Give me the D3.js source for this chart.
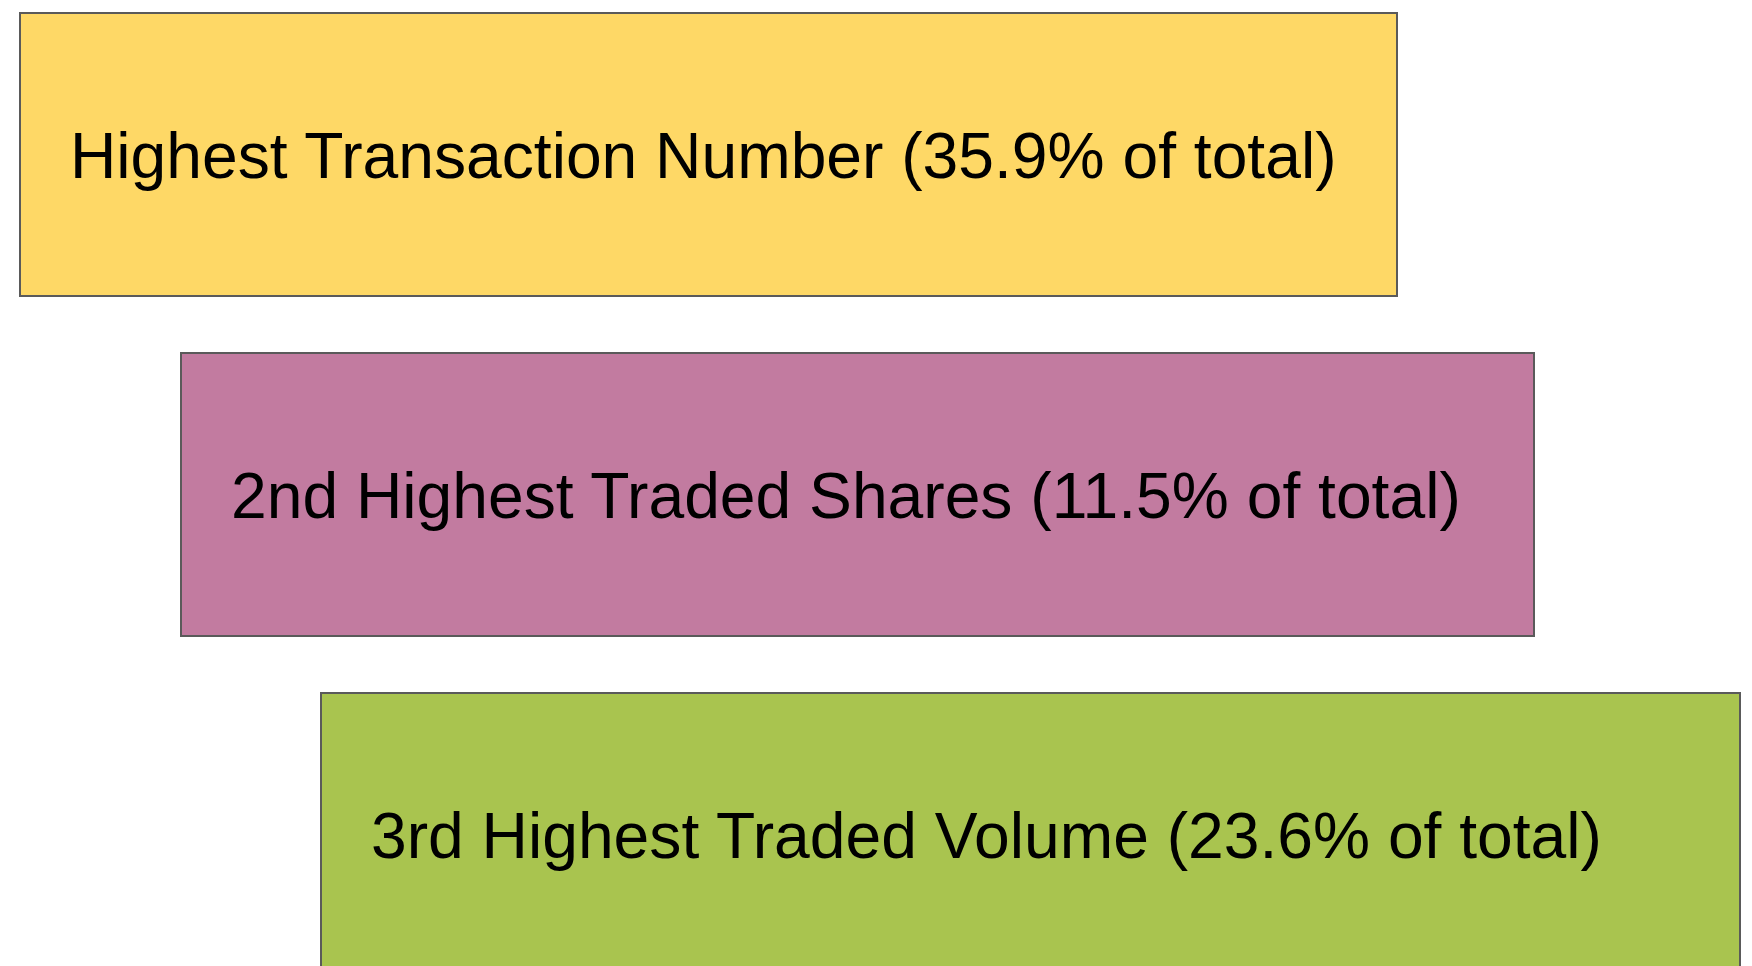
<!DOCTYPE html>
<html>
<head>
<meta charset="utf-8">
<script src="https://cdn.jsdelivr.net/npm/d3@7"></script>
<style>
  html, body { margin: 0; padding: 0; background: #fff; overflow: hidden; }
  svg { display: block; }
  .box-text { font-family: "Liberation Sans", Arial, Helvetica, sans-serif; font-size: 64.2px; fill: #000; }
</style>
</head>
<body>
<svg width="1752" height="966"></svg>
<script>
// data
var ranks = ["Highest", "2nd Highest", "3rd Highest"];
var measures = ["Transaction Number", "Traded Shares", "Traded Volume"];
var shares = [35.9, 11.5, 23.6];
var colors = ["#FED866", "#C27BA0", "#A9C44F"];

var svg = d3.select("svg"),
    width = +svg.attr("width"),
    height = +svg.attr("height");

// staircase layout (left / right edge of each box)
var lefts = [20, 181, 321];
var rights = [1397, 1534, 1740];

var y = d3.scaleBand()
    .domain(d3.range(ranks.length))
    .range([13, 976])
    .paddingInner(57 / 340)
    .paddingOuter(0);

var rows = ranks.map(function(r, i) {
    return {
        label: r + " " + measures[i] + " (" + d3.format(".1f")(shares[i]) + "% of total)",
        color: colors[i],
        i: i
    };
});

var g = svg.append("g").selectAll("g")
    .data(rows)
    .enter().append("g")
    .attr("transform", function(d) { return "translate(0," + y(d.i) + ")"; });

g.append("rect")
    .attr("x", function(d) { return lefts[d.i]; })
    .attr("width", function(d) { return rights[d.i] - lefts[d.i]; })
    .attr("height", y.bandwidth())
    .attr("fill", function(d) { return d.color; })
    .attr("stroke", "#5a5a5a")
    .attr("stroke-width", 2);

g.append("text")
    .attr("class", "box-text")
    .attr("x", function(d) { return lefts[d.i] + 50; })
    .attr("y", y.bandwidth() / 2 + 23.5)
    .text(function(d) { return d.label; });
</script>
</body>
</html>
